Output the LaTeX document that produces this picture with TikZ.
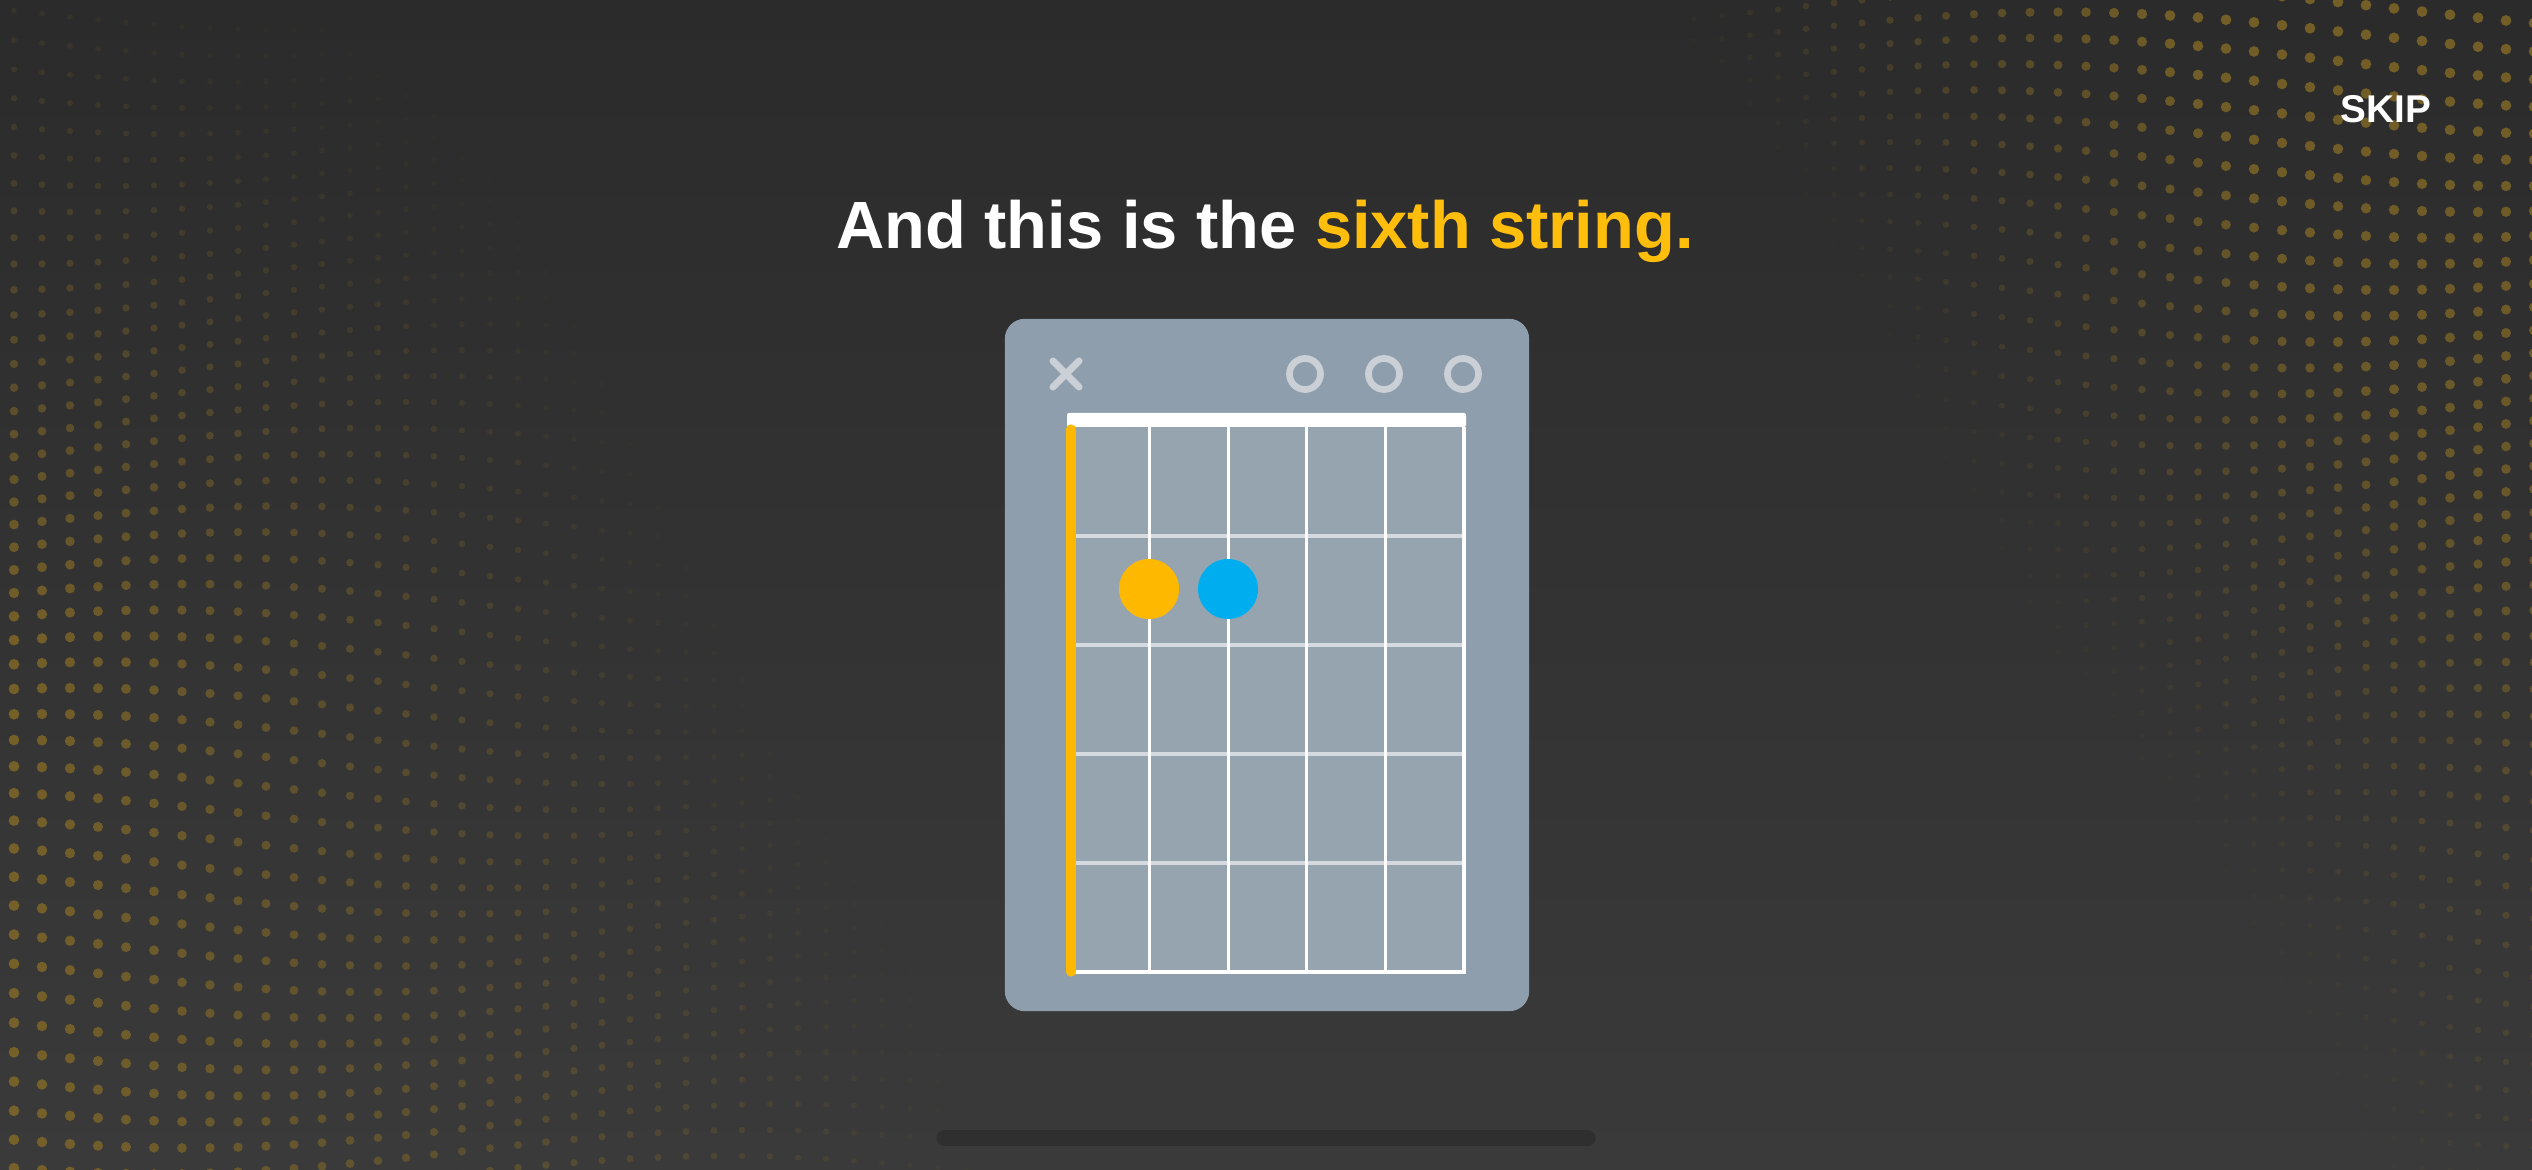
\documentclass[tikz,border=0pt]{standalone}
\usepackage{xcolor}
\usepackage{fontspec}
\setmainfont{Liberation Sans}
\usepackage{tikz}
\usetikzlibrary{shapes.misc, positioning, calc}
\definecolor{bgtop}{RGB}{43,43,43}
\definecolor{bgbot}{RGB}{58,58,58}
\definecolor{dotgold}{RGB}{135,108,38}
\definecolor{titlegold}{RGB}{255,190,11}
\definecolor{fingergold}{RGB}{255,184,0}
\definecolor{fingerblue}{RGB}{0,174,239}
\definecolor{boxgrey}{RGB}{142,158,173}
\definecolor{gridgrey}{RGB}{150,164,176}
\definecolor{markgrey}{RGB}{202,208,214}
\definecolor{fretgrey}{RGB}{212,218,224}
\definecolor{bardark}{RGB}{47,47,47}
\tikzset{
  chordbox/.style={rectangle, fill=boxgrey, rounded corners=0.2cm,
    minimum width=5.24cm, minimum height=6.92cm, inner sep=0pt},
  titletext/.style={anchor=base, text=white, font=\fontsize{19}{22}\selectfont\bfseries},
  skiptext/.style={anchor=base, text=white, font=\fontsize{11}{13}\selectfont\bfseries},
  finger/.style={circle, minimum size=0.6cm, inner sep=0pt},
  openstring/.style={circle, draw=markgrey, line width=1.9pt, minimum size=0.31cm, inner sep=0pt},
  mutemark/.style={cross out, draw=markgrey, line width=2pt, line cap=round,
    minimum size=0.26cm, inner sep=0pt, outer sep=0pt},
  stringline/.style={white, line width=0.9pt},
  fretline/.style={fretgrey, line width=0.9pt},
  sixthstring/.style={fingergold, line width=2.6pt, line cap=round},
  homebar/.style={bardark, line width=4.3pt, line cap=round}
}

\begin{document}
\begin{tikzpicture}[x=0.01cm, y=-0.01cm]
  % Background
  \useasboundingbox (0,0) rectangle (2532,1170);
  \fill[top color=bgtop, bottom color=bgbot] (0,0) rectangle (2532,1170);

  % Dotted waves at the sides
  \foreach \i in {0,...,90}{
    \foreach \j in {0,...,45}{
      \pgfmathsetmacro{\px}{\i*28+14}
      \pgfmathsetmacro{\py}{\j*26+8}
      \pgfmathsetmacro{\lw}{max(0,1-\px/(450+0.5*\py))*(0.15+0.85*min(1,\py/650))}
      \pgfmathsetmacro{\rw}{min(1,max(0,(\px-1650-0.6*\py)/500))*(1-0.45*\py/1170)}
      \pgfmathsetmacro{\dk}{max(\lw,\rw)}
      \ifdim\dk pt>0.04pt
        \pgfmathsetmacro{\op}{0.8*\dk}
        \pgfmathsetmacro{\qy}{\py+22*sin(\px*0.3+\py*0.35)}
        \fill[dotgold, opacity=\op] (\px,\qy) circle[radius={2.4+3*\dk}];
      \fi
    }
  }

  % Title and skip
  \node[titletext] (title) at (1265,249) {And this is the \textcolor{titlegold}{sixth string.}};
  \node[skiptext] (skip) at (2386,123) {SKIP};

  % Chord box
  \node[chordbox] (chord) at (1267,665) {};
  \fill[gridgrey] (1067,420) rectangle (1466,974);

  % Frets and strings
  \foreach \f in {1,...,4}
    \draw[fretline] (1071,{427+109*\f}) -- (1464,{427+109*\f});
  \foreach \s in {1,...,5}
    \draw[stringline] ({1071+78.6*\s},427) -- ({1071+78.6*\s},972);
  \draw[white, line width=0.9pt] (1071,972) -- (1466,972);
  \fill[white, rounded corners=0.02cm] (1067,413) rectangle (1466,427);
  \draw[sixthstring] (1071,429) -- (1071,972);

  % Mute and open marks
  \node[mutemark] (mute) at (1066,374) {};
  \node[openstring] (openG) at (1305,374) {};
  \node[openstring] (openB) at (1384,374) {};
  \node[openstring] (openE) at (1463,374) {};

  % Fingers
  \node[finger, fill=fingergold] (fingerA) at (1149,589) {};
  \node[finger, fill=fingerblue] (fingerD) at (1228,589) {};

  % Home bar
  \draw[homebar] (944,1138) -- (1588,1138);
\end{tikzpicture}
\end{document}
